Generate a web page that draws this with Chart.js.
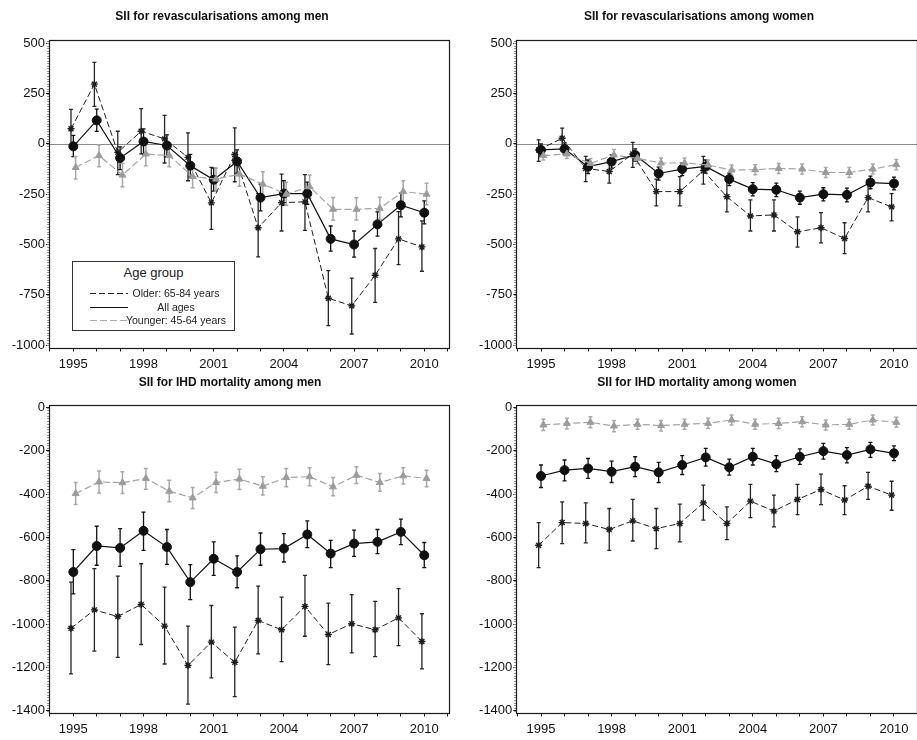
<!DOCTYPE html>
<html>
<head>
<meta charset="utf-8">
<script src="https://cdn.jsdelivr.net/npm/chart.js@4.4.1/dist/chart.umd.min.js"></script>
<style>
  html, body { margin: 0; padding: 0; background: #fff; }
  #wrap { position: relative; width: 917px; height: 740px; overflow: hidden; font-family: 'Liberation Sans', Arial, sans-serif; }
  canvas { position: absolute; }
  .ttl { position: absolute; width: 400px; text-align: center; font-weight: bold; font-size: 12px; color: #111; line-height: 14px; }
  #legend { position: absolute; left: 72px; top: 261px; width: 161px; height: 68px; border: 1px solid #333; background: #fff; color: #222; }
  #legend .head { position: absolute; left: 0; width: 100%; top: 3px; text-align: center; font-size: 13px; line-height: 16px; }
  #legend .row { position: absolute; left: 0; width: 100%; height: 13px; font-size: 10.5px; line-height: 13px; }
  #legend .txt { position: absolute; left: 43px; width: 120px; text-align: center; white-space: nowrap; }
  #legend .smp { position: absolute; left: 17px; width: 38px; top: 6px; height: 1px; }
</style>
</head>
<body>
<div id="wrap">
  <canvas id="c1" width="458" height="378" style="left:0;top:0"></canvas>
  <canvas id="c2" width="470" height="378" style="left:458px;top:0"></canvas>
  <canvas id="c3" width="458" height="370" style="left:0;top:370px"></canvas>
  <canvas id="c4" width="470" height="370" style="left:458px;top:370px"></canvas>

  <div class="ttl" style="left:22px;top:9px">SII for revascularisations among men</div>
  <div class="ttl" style="left:499px;top:9px">SII for revascularisations among women</div>
  <div class="ttl" style="left:30px;top:375px">SII for IHD mortality among men</div>
  <div class="ttl" style="left:497px;top:375px">SII for IHD mortality among women</div>

  <div id="legend">
    <div class="head">Age group</div>
    <div class="row" style="top:25px"><div class="smp" style="background:repeating-linear-gradient(90deg,#222 0 6px,transparent 6px 9px)"></div><div class="txt">Older: 65-84 years</div></div>
    <div class="row" style="top:39px"><div class="smp" style="background:#111;height:1.3px"></div><div class="txt">All ages</div></div>
    <div class="row" style="top:52px"><div class="smp" style="background:repeating-linear-gradient(90deg,#aaa 0 7px,transparent 7px 10px);width:40px"></div><div class="txt">Younger: 45-64 years</div></div>
  </div>
</div>

<script>
// Survey years and axis ticks
const years = [1995, 1996, 1997, 1998, 1999, 2000, 2001, 2002, 2003, 2004, 2005, 2006, 2007, 2008, 2009, 2010];
const yearTicks = [1994, 1995, 1996, 1997, 1998, 1999, 2000, 2001, 2002, 2003, 2004, 2005, 2006, 2007, 2008, 2009, 2010, 2011];
const yearLabels = [1995, 1998, 2001, 2004, 2007, 2010];
const revTicks = [-1000, -750, -500, -250, 0, 250, 500];
const ihdTicks = [-1400, -1200, -1000, -800, -600, -400, -200, 0];

// Revascularisations, men
const revMenOlder   = [75, 297, -42, 63, 25, -67, -293, -53, -417, -292, -288, -767, -805, -653, -472, -512];
const revMenOlderLo = [-20, 187, -153, -50, -95, -183, -425, -188, -562, -433, -430, -903, -945, -788, -600, -633];
const revMenOlderHi = [172, 405, 63, 175, 142, 55, -117, 80, -247, -150, -153, -630, -667, -520, -337, -383];
const revMenAll     = [-12, 117, -70, 12, -8, -108, -178, -87, -267, -247, -247, -472, -500, -400, -305, -342];
const revMenAllLo   = [-63, 62, -128, -50, -65, -165, -235, -145, -333, -305, -300, -533, -563, -458, -363, -397];
const revMenAllHi   = [42, 173, -15, 75, 45, -52, -120, -30, -200, -183, -190, -408, -433, -338, -245, -283];
const revMenYoung   = [-117, -58, -155, -50, -58, -162, -175, -150, -200, -250, -213, -325, -325, -320, -237, -250];
const revMenYoungLo = [-175, -113, -213, -108, -113, -218, -235, -210, -258, -305, -270, -380, -378, -375, -292, -303];
const revMenYoungHi = [-62, -5, -97, 3, 0, -105, -120, -95, -138, -190, -155, -267, -268, -265, -183, -195];

// Revascularisations, women
const revWomOlder   = [-30, 28, -122, -137, -50, -237, -237, -133, -263, -358, -353, -437, -417, -470, -267, -313];
const revWomOlderLo = [-87, -25, -187, -195, -117, -308, -308, -200, -338, -433, -433, -513, -492, -545, -338, -383];
const revWomOlderHi = [20, 78, -62, -80, 8, -175, -163, -62, -172, -278, -278, -363, -342, -392, -188, -247];
const revWomAll     = [-30, -25, -113, -88, -55, -147, -125, -112, -175, -225, -228, -267, -250, -253, -192, -197];
const revWomAllLo   = [-60, -55, -147, -120, -85, -180, -158, -145, -207, -258, -262, -300, -283, -288, -223, -228];
const revWomAllHi   = [0, 5, -80, -55, -25, -115, -95, -80, -145, -192, -195, -235, -218, -220, -160, -165];
const revWomYoung   = [-58, -50, -97, -55, -72, -95, -95, -105, -130, -128, -122, -125, -142, -142, -125, -103];
const revWomYoungLo = [-80, -72, -122, -82, -98, -120, -120, -130, -155, -153, -147, -150, -167, -167, -150, -128];
const revWomYoungHi = [-35, -28, -72, -28, -45, -70, -70, -80, -105, -103, -97, -100, -117, -117, -100, -78];

// IHD mortality, men
const ihdMenOlder   = [-1019, -934, -965, -909, -1009, -1191, -1083, -1176, -983, -1026, -918, -1048, -998, -1026, -971, -1080];
const ihdMenOlderLo = [-1230, -1125, -1153, -1094, -1184, -1369, -1248, -1335, -1137, -1173, -1056, -1187, -1133, -1150, -1099, -1207];
const ihdMenOlderHi = [-806, -744, -778, -721, -829, -1009, -914, -1014, -824, -875, -775, -903, -864, -895, -836, -952];
const ihdMenAll     = [-759, -639, -648, -569, -644, -806, -698, -759, -654, -651, -586, -674, -628, -620, -574, -682];
const ihdMenAllLo   = [-860, -728, -733, -659, -724, -887, -775, -832, -728, -713, -647, -739, -687, -674, -633, -739];
const ihdMenAllHi   = [-656, -548, -559, -483, -563, -725, -620, -685, -579, -582, -523, -613, -566, -563, -515, -623];
const ihdMenYoung   = [-397, -343, -347, -327, -386, -417, -346, -330, -363, -323, -319, -366, -312, -346, -315, -327];
const ihdMenYoungLo = [-448, -394, -397, -377, -435, -466, -392, -378, -404, -366, -361, -407, -350, -386, -353, -366];
const ihdMenYoungHi = [-346, -293, -296, -281, -335, -369, -299, -285, -319, -281, -278, -323, -273, -304, -278, -289];

// IHD mortality, women
const ihdWomOlder   = [-636, -531, -535, -563, -523, -559, -535, -440, -535, -432, -478, -424, -378, -427, -363, -404];
const ihdWomOlderLo = [-739, -628, -625, -659, -616, -651, -620, -520, -610, -508, -551, -494, -448, -494, -424, -474];
const ihdWomOlderHi = [-531, -435, -440, -466, -424, -466, -446, -358, -458, -355, -404, -355, -307, -361, -299, -340];
const ihdWomAll     = [-316, -289, -281, -296, -273, -299, -265, -230, -276, -227, -261, -227, -201, -219, -193, -211];
const ihdWomAllLo   = [-369, -338, -327, -346, -319, -346, -309, -270, -312, -265, -296, -262, -238, -255, -230, -245];
const ihdWomAllHi   = [-265, -242, -235, -247, -227, -253, -222, -188, -238, -188, -222, -191, -165, -185, -161, -177];
const ihdWomYoung   = [-80, -73, -68, -85, -77, -83, -77, -73, -57, -77, -73, -65, -80, -77, -57, -68];
const ihdWomYoungLo = [-106, -99, -93, -111, -100, -108, -100, -96, -80, -100, -96, -88, -103, -100, -80, -91];
const ihdWomYoungHi = [-54, -49, -42, -60, -54, -60, -54, -49, -34, -54, -49, -42, -57, -54, -34, -45];

Chart.defaults.font.family = "'Liberation Sans', Arial, sans-serif";
Chart.defaults.font.size = 13;
Chart.defaults.color = '#111';

// Age groups are dodged slightly along the year axis so their bars don't overlap
const DODGE = 0.1;

function pts(vals, shift) {
  return years.map((yr, i) => ({ x: yr + shift, y: vals[i] }));
}

// Frame, zero reference line, minor y ticks and confidence-interval caps
const framePlugin = {
  id: 'frame',
  beforeDatasetsDraw(chart, args, opts) {
    const { ctx, chartArea: a, scales } = chart;
    const ys = scales.y, xs = scales.x;
    ctx.save();
    // minor ticks along the y axis
    ctx.fillStyle = '#9a9a9a';
    const start = Math.ceil(ys.min / opts.minorStep) * opts.minorStep;
    for (let v = start; v <= ys.max; v += opts.minorStep) {
      const py = Math.round(ys.getPixelForValue(v));
      ctx.fillRect(Math.round(a.left) - 2, py, 2, 1);
    }
    // zero line
    if (opts.zeroLine) {
      const py = Math.round(ys.getPixelForValue(0)) + 0.5;
      ctx.strokeStyle = '#8c8c8c';
      ctx.lineWidth = 1;
      ctx.beginPath();
      ctx.moveTo(a.left, py);
      ctx.lineTo(a.right, py);
      ctx.stroke();
    }
    // frame
    ctx.strokeStyle = '#1a1a1a';
    ctx.lineWidth = 1.2;
    const l = Math.round(a.left) + 0.5, t = Math.round(a.top) + 0.5;
    const r = Math.round(a.right) - 0.5, b = Math.round(a.bottom) + 0.5;
    ctx.strokeRect(l, t, r - l, b - t);
    // confidence intervals
    chart.data.datasets.forEach((ds) => {
      ctx.strokeStyle = ds.errColor;
      ctx.lineWidth = ds.errWidth;
      ds.data.forEach((p, j) => {
        const px = xs.getPixelForValue(p.x);
        const y1 = ys.getPixelForValue(ds.lo[j]);
        const y2 = ys.getPixelForValue(ds.hi[j]);
        ctx.beginPath();
        ctx.moveTo(px, y1); ctx.lineTo(px, y2);
        ctx.moveTo(px - 2, y1); ctx.lineTo(px + 2, y1);
        ctx.moveTo(px - 2, y2); ctx.lineTo(px + 2, y2);
        ctx.stroke();
      });
    });
    ctx.restore();
  }
};

function makePanel(id, g, series, yTicks, yMin, yMax, minorStep, zeroLine) {
  const canvas = document.getElementById(id);
  const W = canvas.width, H = canvas.height;
  const datasets = [
    {
      label: 'Older: 65-84 years', data: pts(series.older, -DODGE), lo: series.olderLo, hi: series.olderHi,
      borderColor: '#1e1e1e', borderWidth: 1, borderDash: [6, 3],
      pointStyle: 'star', pointRadius: 3.5, pointBorderWidth: 1.4,
      pointBackgroundColor: '#1e1e1e', pointBorderColor: '#1e1e1e',
      errColor: '#262626', errWidth: 1.3, order: 3
    },
    {
      label: 'All ages', data: pts(series.all, 0), lo: series.allLo, hi: series.allHi,
      borderColor: '#111', borderWidth: 1.2,
      pointStyle: 'circle', pointRadius: 4.5, pointBorderWidth: 1,
      pointBackgroundColor: '#111', pointBorderColor: '#111',
      errColor: '#111', errWidth: 1.3, order: 2
    },
    {
      label: 'Younger: 45-64 years', data: pts(series.young, DODGE), lo: series.youngLo, hi: series.youngHi,
      borderColor: '#a3a3a3', borderWidth: 1.2, borderDash: [7, 3],
      pointStyle: 'triangle', pointRadius: 4, pointBorderWidth: 1,
      pointBackgroundColor: '#9c9c9c', pointBorderColor: '#9c9c9c',
      errColor: '#a8a8a8', errWidth: 1.5, order: 1
    }
  ];
  return new Chart(canvas, {
    type: 'line',
    data: { datasets },
    plugins: [framePlugin],
    options: {
      responsive: false,
      animation: false,
      events: [],
      layout: { padding: { top: g.top, right: W - g.right, bottom: 0, left: 0 } },
      plugins: {
        legend: { display: false },
        tooltip: { enabled: false },
        frame: { minorStep, zeroLine }
      },
      scales: {
        x: {
          type: 'linear', min: g.xMin, max: g.xMax,
          border: { display: false },
          grid: { drawOnChartArea: false, drawTicks: true, tickLength: 4, color: '#1a1a1a' },
          ticks: {
            autoSkip: false, maxRotation: 0, padding: 5, color: '#111',
            callback: (v) => (yearLabels.includes(v) ? String(v) : '')
          },
          afterBuildTicks: (s) => { s.ticks = yearTicks.map((v) => ({ value: v })); },
          afterFit: (s) => { s.height = H - g.bottom; s.paddingLeft = 0; s.paddingRight = 0; }
        },
        y: {
          type: 'linear', min: yMin, max: yMax,
          border: { display: false },
          grid: { drawOnChartArea: false, drawTicks: true, tickLength: 3, color: '#1a1a1a' },
          ticks: { padding: 1, color: '#111', callback: (v) => String(v) },
          afterBuildTicks: (s) => { s.ticks = yTicks.map((v) => ({ value: v })); },
          afterFit: (s) => { s.width = g.left; s.paddingTop = 0; s.paddingBottom = 0; }
        }
      }
    }
  });
}

makePanel('c1', { left: 49, right: 450, top: 39.5, bottom: 347.5, xMin: 1993.96, xMax: 2011.1 },
  { older: revMenOlder, olderLo: revMenOlderLo, olderHi: revMenOlderHi,
    all: revMenAll, allLo: revMenAllLo, allHi: revMenAllHi,
    young: revMenYoung, youngLo: revMenYoungLo, youngHi: revMenYoungHi },
  revTicks, -1012, 519, 12.5, true);

makePanel('c2', { left: 58.3, right: 459.5, top: 39.5, bottom: 347.5, xMin: 1993.95, xMax: 2011.0 },
  { older: revWomOlder, olderLo: revWomOlderLo, olderHi: revWomOlderHi,
    all: revWomAll, allLo: revWomAllLo, allHi: revWomAllHi,
    young: revWomYoung, youngLo: revWomYoungLo, youngHi: revWomYoungHi },
  revTicks, -1012, 519, 12.5, true);

makePanel('c3', { left: 49, right: 450, top: 35, bottom: 342.5, xMin: 1993.96, xMax: 2011.1 },
  { older: ihdMenOlder, olderLo: ihdMenOlderLo, olderHi: ihdMenOlderHi,
    all: ihdMenAll, allLo: ihdMenAllLo, allHi: ihdMenAllHi,
    young: ihdMenYoung, youngLo: ihdMenYoungLo, youngHi: ihdMenYoungHi },
  ihdTicks, -1408, 12, 12.5, false);

makePanel('c4', { left: 58.3, right: 459.5, top: 35, bottom: 342.5, xMin: 1993.95, xMax: 2011.0 },
  { older: ihdWomOlder, olderLo: ihdWomOlderLo, olderHi: ihdWomOlderHi,
    all: ihdWomAll, allLo: ihdWomAllLo, allHi: ihdWomAllHi,
    young: ihdWomYoung, youngLo: ihdWomYoungLo, youngHi: ihdWomYoungHi },
  ihdTicks, -1408, 12, 12.5, false);
</script>
</body>
</html>
